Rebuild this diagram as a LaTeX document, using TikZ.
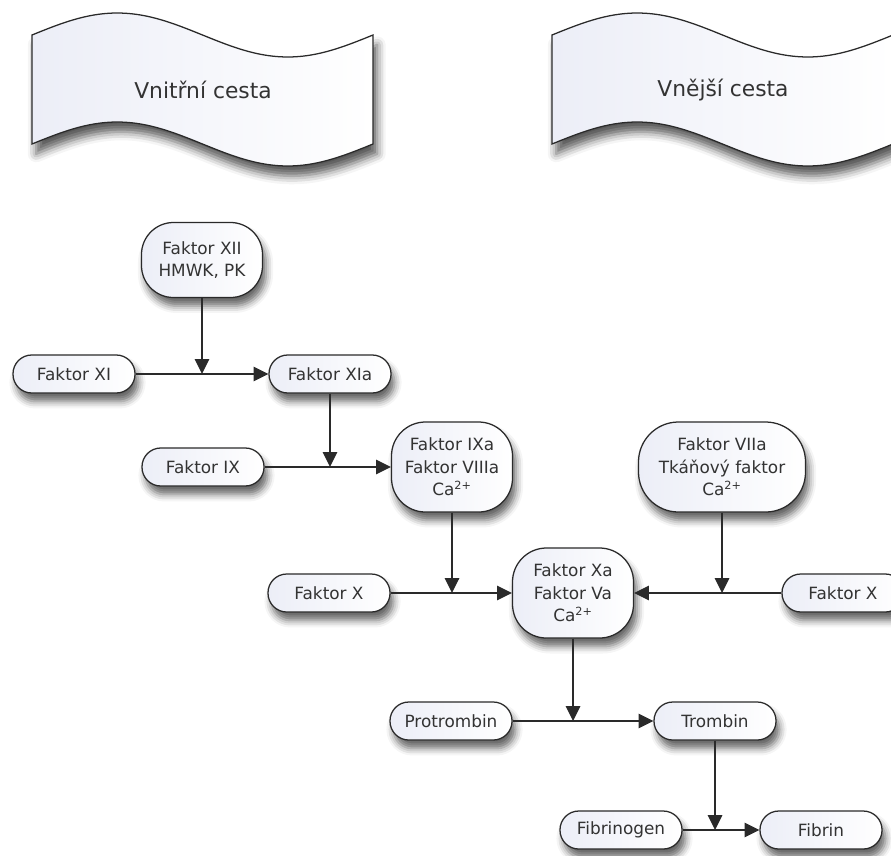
\documentclass[tikz,border=0pt]{standalone}
\usepackage{fontspec}
\setmainfont{DejaVu Sans}
\usepackage{xcolor}
\usetikzlibrary{arrows.meta,shadows.blur}
\definecolor{PaleTint}{HTML}{ECEEF7}
\definecolor{Ink}{HTML}{2A2A2A}
\definecolor{Label}{HTML}{333333}

\begin{document}
\begin{tikzpicture}[x=0.025cm,y=-0.025cm,
    stage/.style={draw=Ink,line width=0.9pt,left color=PaleTint,right color=white,
      align=center,inner sep=0pt,text=Label,font=\fontsize{12}{16}\selectfont,
      blur shadow={shadow xshift=2.5pt,shadow yshift=-6pt,shadow blur radius=5pt,shadow opacity=60}},
    pill/.style={stage,rounded corners=0.47cm,minimum width=3.05cm,minimum height=0.95cm},
    blob/.style={stage,rounded corners=0.85cm,minimum width=3.025cm,minimum height=2.25cm},
    banner/.style={draw=Ink,line width=0.9pt,left color=PaleTint,right color=white,
      blur shadow={shadow xshift=3pt,shadow yshift=-7pt,shadow blur radius=6pt,shadow opacity=65}},
    caption/.style={text=Label,font=\fontsize{15.5}{18}\selectfont},
    link/.style={draw=Ink,line width=1pt},
    arr/.style={link,-{Triangle[length=0.37cm,width=0.36cm]}}]
  \clip (0,0) rectangle (891,855);

  \draw[banner] (32,35) -- (32,144)
    -- plot[domain=32:373,samples=40,smooth] (\x,{144-22*sin((\x-32)*1.05572)})
    -- (373,35)
    -- plot[domain=373:32,samples=40,smooth] (\x,{35-22*sin((\x-32)*1.05572)})
    -- cycle;
  \node[caption] (intrinsic) at (203,90) {Vnitřní cesta};

  \draw[banner] (552,35) -- (552,144)
    -- plot[domain=552:893,samples=40,smooth] (\x,{144-22*sin((\x-552)*1.05572)})
    -- (893,35)
    -- plot[domain=893:552,samples=40,smooth] (\x,{35-22*sin((\x-552)*1.05572)})
    -- cycle;
  \node[caption] (extrinsic) at (723,90) {Vnější cesta};

  \node[blob,minimum height=1.875cm,rounded corners=0.8cm] (fXII) at (202,260) {Faktor XII\\HMWK, PK};
  \node[pill] (fXI) at (74,374) {Faktor XI};
  \node[pill] (fXIa) at (330,374) {Faktor XIa};
  \node[pill] (fIX) at (203,467) {Faktor IX};
  \node[blob] (fIXa) at (452,467) {Faktor IXa\\Faktor VIIIa\\Ca\textsuperscript{2+}};
  \node[blob,minimum width=4.175cm,rounded corners=1cm] (fVIIa) at (722,467) {Faktor VIIa\\Tkáňový faktor\\Ca\textsuperscript{2+}};
  \node[pill] (fXleft) at (329,593) {Faktor X};
  \node[blob] (fXa) at (573,593) {Faktor Xa\\Faktor Va\\Ca\textsuperscript{2+}};
  \node[pill] (fXright) at (843,593) {Faktor X};
  \node[pill] (protrombin) at (451,721) {Protrombin};
  \node[pill] (trombin) at (715,721) {Trombin};
  \node[pill] (fibrinogen) at (621,830) {Fibrinogen};
  \node[pill] (fibrin) at (821,830) {Fibrin};

  \coordinate (jXI) at (fXII.south |- fXI.east);
  \coordinate (jIX) at (fXIa.south |- fIX.east);
  \coordinate (jXleft) at (fIXa.south |- fXleft.east);
  \coordinate (jXright) at (fVIIa.south |- fXright.west);
  \coordinate (jPro) at (fXa.south |- protrombin.east);
  \coordinate (jFib) at (trombin.south |- fibrinogen.east);

  \draw[arr] (fXI.east) -- (fXIa.west);
  \draw[arr] (fXII.south) -- (jXI);
  \draw[arr] (fIX.east) -- (fIXa.west);
  \draw[arr] (fXIa.south) -- (jIX);
  \draw[arr] (fXleft.east) -- (fXa.west);
  \draw[arr] (fIXa.south) -- (jXleft);
  \draw[arr] (fXright.west) -- (fXa.east);
  \draw[arr] (fVIIa.south) -- (jXright);
  \draw[arr] (protrombin.east) -- (trombin.west);
  \draw[arr] (fXa.south) -- (jPro);
  \draw[arr] (fibrinogen.east) -- (fibrin.west);
  \draw[arr] (trombin.south) -- (jFib);
\end{tikzpicture}
\end{document}
